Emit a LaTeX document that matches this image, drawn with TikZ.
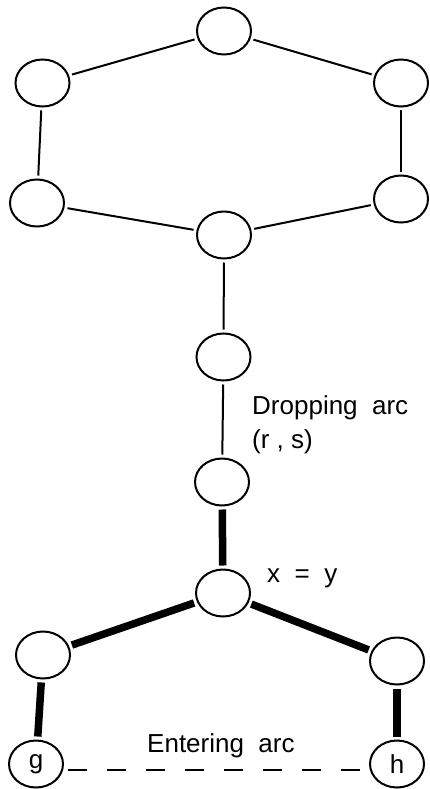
\documentclass[tikz,border=0pt]{standalone}
\usepackage{fontspec}
\setmainfont{Liberation Sans}
\usetikzlibrary{shapes.geometric}
\begin{document}
\begin{tikzpicture}[x=1pt,y=-1pt,
  vtx/.style={draw,ellipse,line width=2pt,minimum width=54pt,minimum height=47pt,inner sep=0pt,font=\fontsize{26}{30}\selectfont},
  thin/.style={line width=2pt,shorten <=3pt,shorten >=3pt},
  thick/.style={line width=7.5pt,shorten <=3pt,shorten >=3pt},
  lbl/.style={anchor=base west,inner sep=0pt,font=\fontsize{26}{30}\selectfont}]
\useasboundingbox (0,0) rectangle (429,789);
\node[vtx] (t) at (224,31) {};
\node[vtx] (ul) at (42.5,83) {};
\node[vtx] (ur) at (401,83) {};
\node[vtx] (ll) at (37,203) {};
\node[vtx] (lr) at (401,199) {};
\node[vtx] (b) at (224,235) {};
\node[vtx] (m1) at (223.5,357) {};
\node[vtx] (m2) at (222,482) {};
\node[vtx] (xy) at (223,593) {};
\node[vtx] (l) at (43,655) {};
\node[vtx] (r) at (397,661) {};
\node[vtx] (g) at (36,764) {g};
\node[vtx] (h) at (397,764) {h};
\draw[thin] (ul) -- (t);
\draw[thin] (t) -- (ur);
\draw[thin] (ul) -- (ll);
\draw[thin] (ur) -- (lr);
\draw[thin] (ll) -- (b);
\draw[thin] (b) -- (lr);
\draw[thin] (b) -- (m1);
\draw[thin] (m1) -- (m2);
\draw[thick] (m2) -- (xy);
\draw[thick] (xy) -- (l);
\draw[thick] (xy) -- (r);
\draw[thick] (l) -- (g);
\draw[thick] (r) -- (h);
\draw[line width=2pt,dash pattern=on 19pt off 20pt,shorten <=4pt] ([yshift=-6pt]g.east) -- ([yshift=-6pt]h.west);
\node[lbl] (t1) at (252,414) {Dropping\ \ arc};
\node[lbl] (t2) at (252,448) {(r , s)};
\node[lbl] (t3) at (267,582) {x\ \ =\ \ y};
\node[lbl] (t4) at (147,752) {Entering\ \ arc};
\end{tikzpicture}
\end{document}
